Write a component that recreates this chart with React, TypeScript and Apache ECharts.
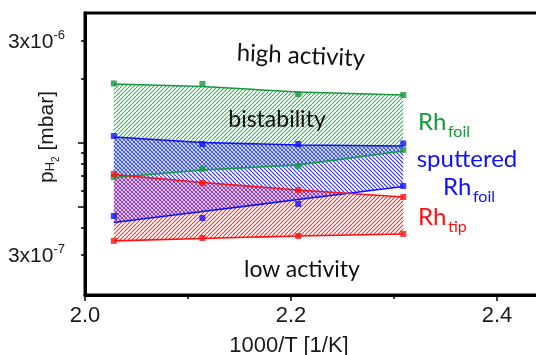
import React, { useEffect, useRef } from 'react';
import * as echarts from 'echarts';

// 1000/T positions of the four temperatures
const invTemp = [2.028, 2.114, 2.207, 2.309];

// boundary lines of the three bistability regions (mbar)
const rhFoilUpperLine = [1.883e-6, 1.833e-6, 1.727e-6, 1.672e-6];
const rhFoilLowerLine = [6.88e-7, 7.46e-7, 7.88e-7, 9.16e-7];
const sputUpperLine = [1.064e-6, 1.003e-6, 9.77e-7, 9.66e-7];
const sputLowerLine = [4.24e-7, 4.77e-7, 5.43e-7, 6.25e-7];
const tipUpperLine = [7.11e-7, 6.52e-7, 6.02e-7, 5.58e-7];
const tipLowerLine = [3.48e-7, 3.57e-7, 3.67e-7, 3.75e-7];

// measured transition points (mbar)
const rhFoilUpperPts = [1.893e-6, 1.883e-6, 1.69e-6, 1.672e-6];
const rhFoilLowerPts = [6.92e-7, 7.55e-7, 7.79e-7, 9.26e-7];
const sputUpperPts = [1.076e-6, 9.87e-7, 9.87e-7, 9.93e-7];
const sputLowerPts = [4.55e-7, 4.45e-7, 5.18e-7, 6.28e-7];
const tipUpperPts = [7.15e-7, 6.49e-7, 6.02e-7, 5.58e-7];
const tipLowerPts = [3.48e-7, 3.59e-7, 3.67e-7, 3.75e-7];

// axis ticks
const yLabelValues = [3e-6, 3e-7];
const yShortTickValues = [3e-6, 2e-6, 9e-7, 8e-7, 7e-7, 6e-7, 4e-7, 3e-7];
const yLongTickValues = [1e-6, 5e-7];

const GREEN = '#17993c';
const BLUE = '#1010ff';
const RED = '#ff1010';
const SANS = '"Liberation Sans", Arial, sans-serif';
const CAL = 'Lato, "Open Sans", sans-serif';

function hatch(color: string, dir: 1 | -1, size = 4, width = 1.15) {
  const c = document.createElement('canvas');
  c.width = size;
  c.height = size;
  const ctx = c.getContext('2d')!;
  ctx.strokeStyle = color;
  ctx.lineWidth = width;
  ctx.beginPath();
  for (const o of [-size, 0, size]) {
    if (dir === 1) {
      ctx.moveTo(o, size);
      ctx.lineTo(o + size, 0);
    } else {
      ctx.moveTo(o, 0);
      ctx.lineTo(o + size, size);
    }
  }
  ctx.stroke();
  return { image: c, repeat: 'repeat' };
}

function band(upper: number[], lower: number[], fill: any, z: number) {
  return {
    type: 'custom',
    coordinateSystem: 'cartesian2d',
    silent: true,
    z,
    data: [[invTemp[0], upper[0]]],
    renderItem: (_p: any, api: any) => {
      const pts: number[][] = [];
      upper.forEach((v, i) => pts.push(api.coord([invTemp[i], v])));
      for (let i = lower.length - 1; i >= 0; i--) pts.push(api.coord([invTemp[i], lower[i]]));
      return { type: 'polygon', shape: { points: pts }, style: { fill, stroke: null } };
    },
  };
}

function line(vals: number[], color: string) {
  return {
    type: 'line',
    data: invTemp.map((x, i) => [x, vals[i]]),
    symbol: 'none',
    lineStyle: { color, width: 1.6 },
    z: 5,
    silent: true,
  };
}

function pts(vals: number[], color: string) {
  return {
    type: 'scatter',
    data: invTemp.map((x, i) => [x, vals[i]]),
    symbol: 'rect',
    symbolSize: 6,
    itemStyle: { color },
    z: 6,
    silent: true,
  };
}

function rhLabel(x: number, y: number, sub: string, color: string) {
  return [
    {
      type: 'text',
      x,
      y,
      style: { text: 'Rh', fontFamily: CAL, fontSize: 24, lineHeight: 22, fill: color, align: 'left', verticalAlign: 'middle' },
    },
    {
      type: 'text',
      x: x + 30,
      y: y + 10,
      style: { text: sub, fontFamily: CAL, fontSize: 16, lineHeight: 16, fill: color, align: 'left', verticalAlign: 'middle' },
    },
  ];
}

export default function App() {
  const ref = useRef<HTMLDivElement>(null);
  useEffect(() => {
    if (!ref.current) return;
    const chart = echarts.init(ref.current, null, { renderer: 'svg' });
    const yMin = 1.944e-7;
    const yMax = 4.04e-6;
    chart.setOption({
      animation: false,
      grid: {
        show: true,
        left: 85,
        top: 13,
        width: 515,
        height: 282,
        outerBoundsMode: 'none',
        containLabel: false,
        borderColor: '#000',
        borderWidth: 3,
        backgroundColor: 'transparent',
      },
      xAxis: {
        type: 'value',
        min: 2.0,
        max: 2.5,
        interval: 0.2,
        axisLine: { show: true, lineStyle: { color: '#000', width: 3 } },
        axisTick: { show: true, length: 6, lineStyle: { color: '#000', width: 1.5 } },
        minorTick: { show: true, splitNumber: 2, length: 4, lineStyle: { color: '#000', width: 1.5 } },
        splitLine: { show: false },
        axisLabel: {
          fontFamily: SANS,
          fontSize: 22,
          color: '#1a1a1a',
          margin: 8,
          showMaxLabel: false,
          formatter: (v: number) => v.toFixed(1),
        },
      },
      yAxis: [
        {
          type: 'log',
          logBase: 10,
          min: yMin,
          max: yMax,
          axisLine: { show: true, lineStyle: { color: '#000', width: 3 } },
          axisTick: { show: true, length: 4, customValues: yShortTickValues, lineStyle: { color: '#000', width: 1.5 } },
          splitLine: { show: false },
          minorTick: { show: false },
          axisLabel: {
            customValues: yLabelValues,
            margin: 20,
            formatter: (v: number) => {
              const e = Math.floor(Math.log10(v) + 1e-9);
              const m = Math.round(v / Math.pow(10, e));
              return `{b|${m}x10}{s|${e}}`;
            },
            rich: {
              b: { fontFamily: SANS, fontSize: 21, color: '#1a1a1a', lineHeight: 26 },
              s: { fontFamily: SANS, fontSize: 13, color: '#1a1a1a', lineHeight: 14, verticalAlign: 'top' },
            },
          },
        },
        {
          type: 'log',
          logBase: 10,
          min: yMin,
          max: yMax,
          position: 'left',
          axisLine: { show: false },
          axisTick: { show: true, length: 7, customValues: yLongTickValues, lineStyle: { color: '#000', width: 1.5 } },
          axisLabel: { show: false },
          splitLine: { show: false },
        },
      ],
      graphic: [
        {
          type: 'text',
          x: 289,
          y: 344,
          style: { text: '1000/T [1/K]', fontFamily: SANS, fontSize: 22, fill: '#1a1a1a', align: 'center', verticalAlign: 'middle' },
        },
        {
          type: 'text',
          x: 45,
          y: 137,
          rotation: Math.PI / 2,
          style: {
            text: '{p|p}{h|H}{t|2}{p| [mbar]}',
            align: 'center',
            verticalAlign: 'middle',
            rich: {
              p: { fontFamily: SANS, fontSize: 21, fill: '#1a1a1a', lineHeight: 30 },
              h: { fontFamily: SANS, fontSize: 13, fill: '#1a1a1a', lineHeight: 13, verticalAlign: 'bottom', padding: [0, 0, 4, 0] },
              t: { fontFamily: SANS, fontSize: 10, fill: '#1a1a1a', lineHeight: 10, verticalAlign: 'bottom' },
            },
          },
        },
        {
          type: 'text',
          x: 301,
          y: 54,
          rotation: -0.045,
          style: { text: 'high activity', fontFamily: CAL, fontSize: 24, fill: '#111', align: 'center', verticalAlign: 'middle' },
        },
        {
          type: 'text',
          x: 277,
          y: 118,
          z: 20,
          style: { text: 'bistability', fontFamily: CAL, fontSize: 23, fill: '#111', align: 'center', verticalAlign: 'middle' },
        },
        {
          type: 'text',
          x: 302,
          y: 268,
          style: { text: 'low activity', fontFamily: CAL, fontSize: 23, fill: '#111', align: 'center', verticalAlign: 'middle' },
        },
        ...rhLabel(418, 120, 'foil', GREEN),
        {
          type: 'text',
          x: 467,
          y: 157,
          style: { text: 'sputtered', fontFamily: CAL, fontSize: 24, lineHeight: 22, fill: BLUE, align: 'center', verticalAlign: 'middle' },
        },
        ...rhLabel(443, 185, 'foil', BLUE),
        ...rhLabel(418, 215, 'tip', RED),
      ],
      series: [
        band(rhFoilUpperLine, rhFoilLowerLine, hatch('#45ad63', 1), 1),
        band(sputUpperLine, sputLowerLine, hatch('#3535ff', -1), 2),
        band(tipUpperLine, tipLowerLine, hatch('#ff3535', 1), 3),
        line(rhFoilUpperLine, GREEN),
        line(rhFoilLowerLine, GREEN),
        line(sputUpperLine, BLUE),
        line(sputLowerLine, BLUE),
        line(tipUpperLine, RED),
        line(tipLowerLine, RED),
        pts(rhFoilUpperPts, GREEN),
        pts(rhFoilLowerPts, GREEN),
        pts(sputUpperPts, BLUE),
        pts(sputLowerPts, BLUE),
        pts(tipUpperPts, RED),
        pts(tipLowerPts, RED),
      ],
    });
    return () => chart.dispose();
  }, []);
  return <div ref={ref} style={{ position: 'fixed', left: 0, top: 0, width: 536, height: 355 }} />;
}
